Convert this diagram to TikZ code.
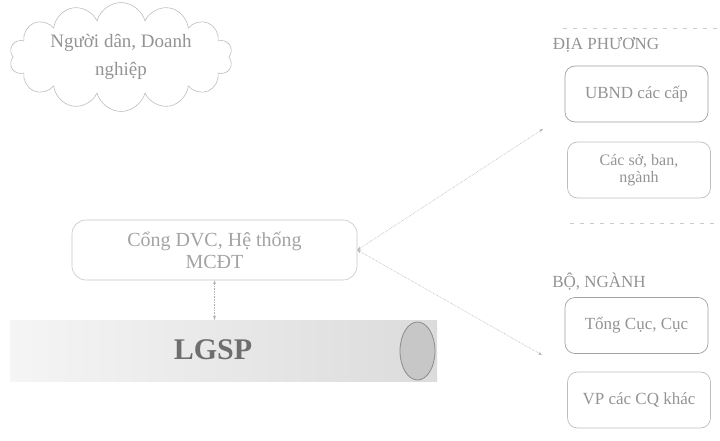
\documentclass[tikz,border=0pt]{standalone}
\usepackage{fontspec}
\setmainfont{Liberation Serif}
\usetikzlibrary{shapes.symbols,shapes.geometric,arrows.meta}
\definecolor{txt}{HTML}{939393}
\definecolor{edge}{HTML}{A0A0A0}
\definecolor{lg}{HTML}{6E6E6E}
\tikzset{
  unitbox/.style={draw=edge, line width=0.7pt, rounded corners=10pt, text=txt, align=center,
    minimum width=143pt, minimum height=56pt, inner sep=2pt, font=\fontsize{17}{17}\selectfont},
  grouphead/.style={text=txt, font=\fontsize{17}{17}\selectfont, inner sep=0pt},
  link/.style={draw=edge!80, line width=0.6pt, densely dotted, {Stealth[length=4pt,width=3pt]}-{Stealth[length=4pt,width=3pt]}},
  groupline/.style={draw=edge!55, line width=0.6pt, dash pattern=on 4pt off 6pt}
}
\begin{document}
\begin{tikzpicture}[x=1pt,y=-1pt]
\useasboundingbox (0,0) rectangle (720,441);
% cloud
\node[cloud, cloud puffs=14, aspect=2.6, draw=edge!70, line width=0.6pt,
  minimum width=223pt, minimum height=84pt, inner sep=0pt, text=txt, align=center,
  font=\fontsize{19}{28}\selectfont] (people) at (121,57) {Người dân, Doanh\\nghiệp};
% group outlines
\draw[groupline] (563,28) -- (720,28);
\draw[groupline] (570,223) -- (718,223);
% right side
\node[grouphead] (dp) at (606,45) {ĐỊA PHƯƠNG};
\node[unitbox] (ubnd) at (636.5,94) {UBND các cấp};
\node[unitbox, draw=edge!70, font=\fontsize{16}{17}\selectfont] (so) at (639,170) {Các sở, ban,\\ngành};
\node[grouphead] (bn) at (599,282) {BỘ, NGÀNH};
\node[unitbox] (tong) at (636.5,325.5) {Tổng Cục, Cục};
\node[unitbox, draw=edge!70] (vp) at (639,400) {VP các CQ khác};
% portal
\node[draw=edge!60, line width=0.6pt, rounded corners=14pt, minimum width=285pt, minimum height=60pt,
  text=txt!85, align=center, font=\fontsize{20}{22}\selectfont] (cong) at (214.5,250) {Cổng DVC, Hệ thống\\MCĐT};
% LGSP band
\node[rectangle, minimum width=427pt, minimum height=61pt, inner sep=0pt,
  left color=white!96!black, right color=white!86!black, draw=none] (band) at (223.5,350.5) {};
\node[ellipse, draw=lg!80, line width=0.8pt, fill=white!78!black, minimum width=35pt, minimum height=58pt, inner sep=0pt] (ell) at (417.5,351) {};
\node[text=lg, font=\bfseries\fontsize{30}{30}\selectfont] (lgsp) at (213,350) {LGSP};
% connectors
\coordinate (endUp) at (543,129);
\coordinate (endDown) at (542,355);
\draw[link] (cong.east) -- (endUp);
\draw[link] (cong.east) -- (endDown);
\draw[link] (cong.south) -- (cong.south |- band.north);
\end{tikzpicture}
\end{document}
